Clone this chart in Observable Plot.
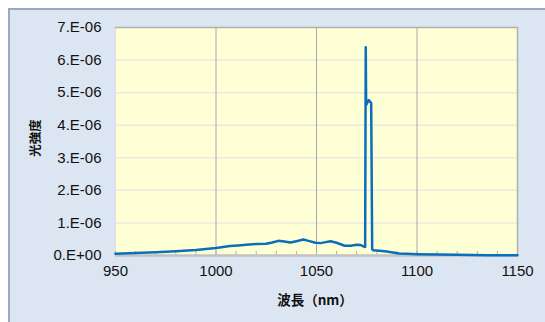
<!DOCTYPE html>
<html>
<head>
<meta charset="utf-8">
<script src="https://cdn.jsdelivr.net/npm/d3@7"></script>
<script src="https://cdn.jsdelivr.net/npm/@observablehq/plot@0.6"></script>
<style>
  html, body { margin: 0; padding: 0; background: #ffffff; }
  #wrap { position: relative; width: 545px; height: 322px; overflow: hidden; font-family: "Noto Sans CJK JP", "Noto Sans", sans-serif; }
  #panel { position: absolute; left: 8px; top: 8px; right: 0; bottom: 0; background: #dce6f2;
           border-top: 2px solid #a3a3c6; border-left: 2px solid #a3a3c6; }
  #chart { position: absolute; left: 0; top: 0; }
  #ytitle { position: absolute; left: 34px; top: 138px; transform: translate(-50%, -50%) rotate(-90deg);
            font-size: 12.5px; font-weight: bold; color: #111; white-space: nowrap; }
  #xtitle { position: absolute; left: 315px; top: 299px; transform: translate(-50%, -50%);
            font-size: 13.5px; font-weight: bold; color: #111; white-space: nowrap; }
</style>
</head>
<body>
<div id="wrap">
  <div id="panel"></div>
  <div id="chart"></div>
  <div id="ytitle">光強度</div>
  <div id="xtitle">波長（nm）</div>
</div>
<script>
// Spectrum: wavelength (nm) and light intensity
const wavelength = [
  950, 960, 970, 980, 990, 1000, 1007, 1011, 1015, 1020, 1025, 1028, 1031, 1034, 1037, 1040,
  1043.5, 1046, 1049.5, 1052, 1054.5, 1057, 1060, 1064, 1067, 1070, 1072, 1074.2,
  1074.5, 1074.7, 1076.0, 1077.2, 1077.7, 1078.3, 1084, 1088, 1091, 1095, 1100, 1110, 1120, 1135, 1150
];
const intensity = [
  0.05e-6, 0.08e-6, 0.10e-6, 0.13e-6, 0.17e-6, 0.23e-6, 0.29e-6, 0.31e-6, 0.33e-6, 0.35e-6, 0.36e-6,
  0.40e-6, 0.45e-6, 0.43e-6, 0.40e-6, 0.44e-6, 0.49e-6, 0.45e-6, 0.39e-6, 0.38e-6, 0.41e-6, 0.44e-6,
  0.39e-6, 0.30e-6, 0.30e-6, 0.33e-6, 0.32e-6, 0.26e-6,
  6.39e-6, 4.62e-6, 4.77e-6, 4.68e-6, 0.19e-6, 0.16e-6, 0.13e-6, 0.09e-6, 0.06e-6, 0.05e-6, 0.04e-6,
  0.03e-6, 0.02e-6, 0.01e-6, 0.01e-6
];

// Axis ticks and labels
const xTicks = [950, 1000, 1050, 1100, 1150];
const xGrid = [1000, 1050, 1100];
const xMinorTicks = d3.range(950, 1151, 10);
const yTicks = [0, 1e-6, 2e-6, 3e-6, 4e-6, 5e-6, 6e-6, 7e-6];
const yTickLabels = ["0.E+00", "1.E-06", "2.E-06", "3.E-06", "4.E-06", "5.E-06", "6.E-06", "7.E-06"];

const data = wavelength.map((w, i) => ({w, v: intensity[i]}));

const tickFont = "'Liberation Sans', Arial, sans-serif";

const chart = Plot.plot({
  width: 545,
  height: 322,
  marginLeft: 115,
  marginRight: 28,
  marginTop: 27,
  marginBottom: 67,
  style: {background: "transparent", fontFamily: tickFont},
  x: {domain: [950, 1150]},
  y: {domain: [0, 7e-6]},
  marks: [
    Plot.frame({fill: "#ffffd6", stroke: null}),
    // horizontal gridlines
    Plot.ruleY(yTicks.slice(1, -1), {stroke: "#e9e9e4", strokeWidth: 1.5}),
    // vertical gridlines
    Plot.ruleX(xGrid, {stroke: "#a8a8a8", strokeWidth: 1}),
    // plot area border
    Plot.ruleX([950], {stroke: "#dedede", strokeWidth: 1}),
    Plot.ruleY([7e-6], {stroke: "#b0b0b0", strokeWidth: 1.5}),
    Plot.ruleX([1150], {stroke: "#b0b0b0", strokeWidth: 1.5}),
    // minor tick marks pointing into the plot
    Plot.axisX({ticks: xMinorTicks, tickSize: -4, stroke: "#b0b0b0", text: null, label: null}),
    Plot.ruleY([0], {stroke: "#c2c2c2", strokeWidth: 2.5}),
    Plot.axisX({ticks: xTicks, tickSize: 0, tickPadding: 10, fontSize: 15, fill: "#111", label: null,
                tickFormat: d => String(d)}),
    Plot.axisY({ticks: yTicks, tickSize: 0, tickPadding: 14, fontSize: 15, fill: "#111", label: null,
                tickFormat: (d, i) => yTickLabels[i]}),
    Plot.line(data, {x: "w", y: "v", stroke: "#0a6ebd", strokeWidth: 2.5, strokeLinejoin: "round"})
  ]
});
document.getElementById("chart").appendChild(chart);
</script>
</body>
</html>
